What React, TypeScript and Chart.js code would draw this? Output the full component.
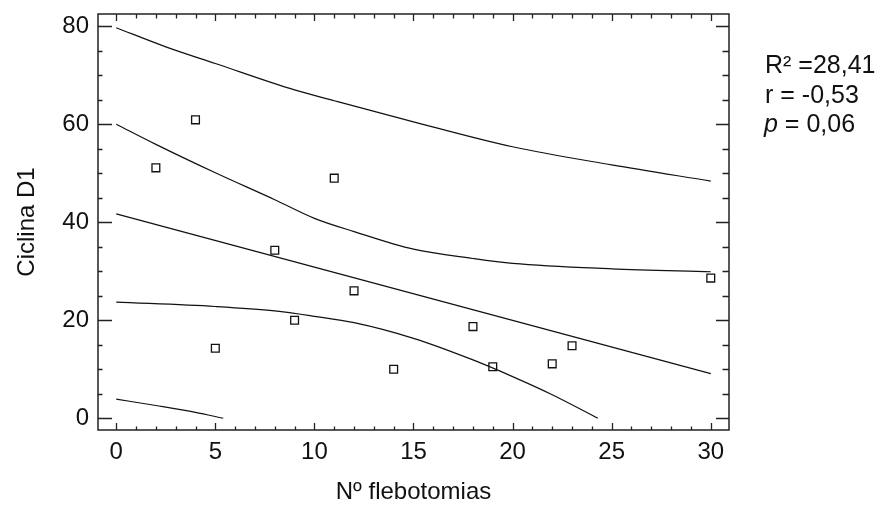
import React, { useEffect, useRef } from "react";
import { Chart, registerables } from "chart.js";

Chart.register(...registerables);

// Observations: number of phlebotomies vs. Cyclin D1
const flebotomias = [2, 4, 5, 8, 9, 11, 12, 14, 18, 19, 22, 23, 30];
const ciclinaD1 = [51.1, 60.9, 14.3, 34.3, 20.0, 49.0, 26.0, 10.0, 18.7, 10.5, 11.1, 14.8, 28.6];

// Fitted regression line
const fitX = [0, 30];
const fitY = [41.7, 9.1];

// Confidence limits of the mean
const upperConfX = [0, 2, 5, 8, 10, 12, 15, 18, 20, 25, 30];
const upperConfY = [60.0, 55.9, 50.1, 44.6, 40.8, 38.1, 34.5, 32.6, 31.6, 30.5, 29.9];
const lowerConfX = [0, 5, 8, 10, 12, 15, 18, 20, 22, 24.3];
const lowerConfY = [23.7, 22.8, 21.9, 20.8, 19.5, 16.3, 11.9, 8.5, 4.8, 0];

// Prediction limits
const upperPredX = [0, 2.5, 5, 9, 11, 15, 20, 25, 30];
const upperPredY = [79.7, 75.8, 72.4, 67.0, 64.8, 60.5, 55.4, 51.7, 48.4];
const lowerPredX = [0, 2, 4, 5.4];
const lowerPredY = [3.9, 2.6, 1.2, 0];

// Axis ticks
const xTickValues = [0, 5, 10, 15, 20, 25, 30];
const yTickValues = [0, 20, 40, 60, 80];
const xMinorStep = 1;
const yMinorStep = 5;

// Statistics box
const statR2 = "R\u00B2 =28,41";
const statR = "r = -0,53";
const statPLabel = "p";
const statPValue = " = 0,06";

const FONT_FAMILY = "'Liberation Sans', Arial, Helvetica, sans-serif";
const INK = "#111111";

const toPoints = (xs: number[], ys: number[]) => xs.map((x, i) => ({ x, y: ys[i] }));

const lineStyle = {
  type: "line" as const,
  showLine: true,
  borderColor: INK,
  borderWidth: 1.2,
  pointRadius: 0,
  fill: false,
  cubicInterpolationMode: "monotone" as const,
};

// Frame with inward ticks on all four sides, plus the statistics text
const framePlugin = {
  id: "frameTicks",
  afterDraw(chart: any) {
    const { ctx, chartArea: a, scales } = chart;
    const xs = scales.x;
    const ys = scales.y;
    ctx.save();
    ctx.strokeStyle = "#222222";
    ctx.lineWidth = 1.5;
    ctx.strokeRect(a.left, a.top, a.right - a.left, a.bottom - a.top);

    ctx.lineWidth = 1.3;
    ctx.beginPath();
    for (let v = 0; v <= 30 + 1e-9; v += xMinorStep) {
      const px = Math.round(xs.getPixelForValue(v)) + 0.5;
      const major = v % 5 === 0;
      const len = major ? 7 : 3.5;
      ctx.moveTo(px, a.bottom);
      ctx.lineTo(px, a.bottom - len);
      ctx.moveTo(px, a.top);
      ctx.lineTo(px, a.top + (major ? 7 : 4.5));
    }
    for (let v = 0; v <= 80 + 1e-9; v += yMinorStep) {
      const py = Math.round(ys.getPixelForValue(v)) + 0.5;
      const major = v % 20 === 0;
      ctx.moveTo(a.left, py);
      ctx.lineTo(a.left + (major ? 14 : 4.5), py);
      ctx.moveTo(a.right, py);
      ctx.lineTo(a.right - (major ? 13 : 6.5), py);
    }
    ctx.stroke();

    // statistics
    ctx.fillStyle = INK;
    ctx.textBaseline = "alphabetic";
    ctx.textAlign = "left";
    const tx = 765;
    ctx.font = `25px ${FONT_FAMILY}`;
    ctx.fillText(statR2, tx, 73);
    ctx.fillText(statR, tx, 102.5);
    ctx.font = `italic 25px ${FONT_FAMILY}`;
    ctx.fillText(statPLabel, tx - 1, 132);
    const pw = ctx.measureText(statPLabel).width;
    ctx.font = `25px ${FONT_FAMILY}`;
    ctx.fillText(statPValue, tx - 1 + pw, 132);
    ctx.restore();
  },
};

export default function App() {
  const canvasRef = useRef<HTMLCanvasElement | null>(null);

  useEffect(() => {
    const canvas = canvasRef.current;
    if (!canvas) return;
    const tickFont = { family: FONT_FAMILY, size: 24 };

    const chart = new Chart(canvas, {
      type: "scatter",
      data: {
        datasets: [
          {
            label: "Ciclina D1",
            data: toPoints(flebotomias, ciclinaD1),
            pointStyle: "rect",
            pointRadius: 5.5,
            pointHoverRadius: 5.5,
            borderColor: INK,
            borderWidth: 1.3,
            backgroundColor: "rgba(0,0,0,0)",
            showLine: false,
          },
          { ...lineStyle, label: "fit", data: toPoints(fitX, fitY), cubicInterpolationMode: "default" as const, tension: 0 },
          { ...lineStyle, label: "conf+", data: toPoints(upperConfX, upperConfY) },
          { ...lineStyle, label: "conf-", data: toPoints(lowerConfX, lowerConfY) },
          { ...lineStyle, label: "pred+", data: toPoints(upperPredX, upperPredY) },
          { ...lineStyle, label: "pred-", data: toPoints(lowerPredX, lowerPredY) },
        ] as any,
      },
      options: {
        animation: false,
        responsive: false,
        devicePixelRatio: 1,
        layout: { padding: { top: 14, right: 156, left: 0, bottom: 0 } },
        plugins: {
          legend: { display: false },
          tooltip: { enabled: false },
        },
        scales: {
          x: {
            type: "linear",
            min: -0.92,
            max: 30.92,
            grid: { display: false, drawTicks: false },
            border: { display: false },
            ticks: { font: tickFont, color: INK, padding: 8, maxRotation: 0 },
            afterBuildTicks: (s: any) => {
              s.ticks = xTickValues.map((v) => ({ value: v }));
            },
            afterFit: (s: any) => {
              s.height = 77;
              s.paddingLeft = 0;
              s.paddingRight = 0;
            },
            title: {
              display: true,
              text: "N\u00BA flebotomias",
              font: tickFont,
              color: INK,
              padding: { top: 0, bottom: 0 },
            },
          },
          y: {
            type: "linear",
            min: -2.4,
            max: 82.5,
            grid: { display: false, drawTicks: false },
            border: { display: false },
            ticks: { font: tickFont, color: INK, padding: 9 },
            afterBuildTicks: (s: any) => {
              s.ticks = yTickValues.map((v) => ({ value: v }));
            },
            afterFit: (s: any) => {
              s.width = 98;
              s.paddingTop = 0;
              s.paddingBottom = 0;
            },
            title: {
              display: true,
              text: "Ciclina D1",
              font: tickFont,
              color: INK,
              padding: { top: 13, bottom: 0 },
            },
          },
        },
      } as any,
      plugins: [framePlugin],
    });

    return () => chart.destroy();
  }, []);

  return (
    <div style={{ position: "absolute", left: 0, top: 0, width: 885, height: 507, background: "#fff" }}>
      <canvas ref={canvasRef} width={885} height={507} style={{ display: "block" }} />
    </div>
  );
}
